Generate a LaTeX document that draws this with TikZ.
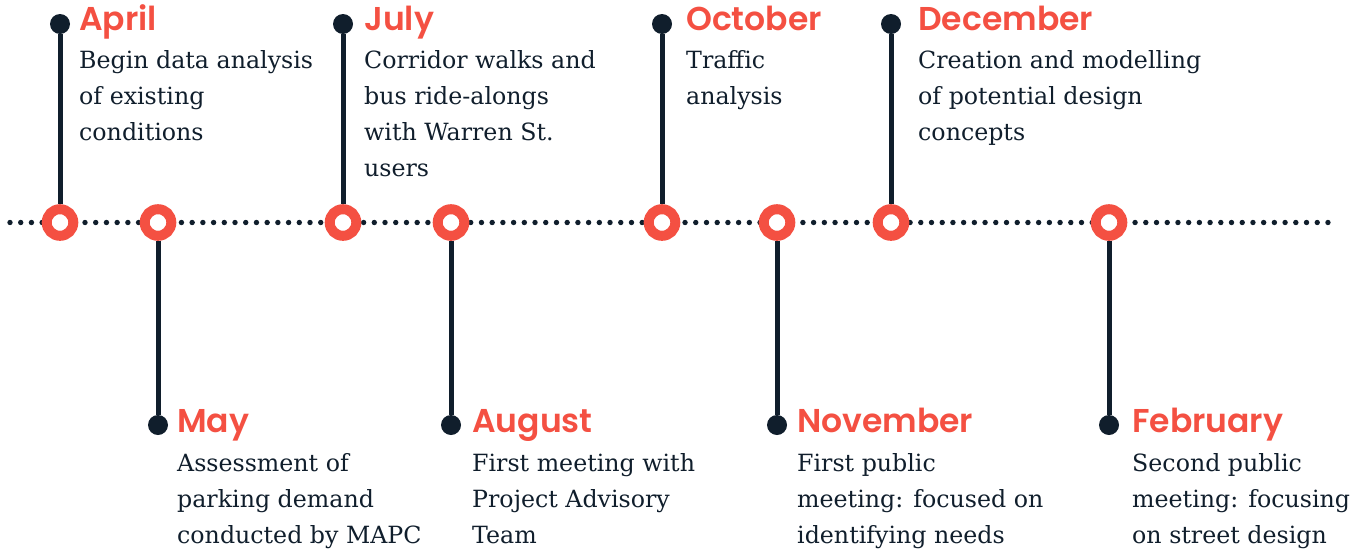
\documentclass[tikz,border=0pt]{standalone}
\usepackage{fontspec}
\setmainfont{DejaVu Serif}
\newfontfamily\headfont{Poppins SemiBold}
\usetikzlibrary{backgrounds}
\definecolor{accent}{RGB}{244,80,66}
\definecolor{navy}{RGB}{16,30,44}
\begin{document}
\begin{tikzpicture}[x=1pt,y=-1pt,
  ring/.style={circle,draw=accent,line width=10pt,fill=white,minimum size=26.6pt,inner sep=0pt},
  pin/.style={circle,fill=navy,minimum size=20pt,inner sep=0pt},
  stem/.style={draw=navy,line width=5pt},
  month/.style={anchor=base west,inner sep=0pt,text=accent,font=\headfont\fontsize{33}{36}\selectfont},
  desc/.style={anchor=north west,inner sep=0pt,align=left,text=navy,font=\fontsize{23.7}{36}\selectfont}]
\useasboundingbox (0,0) rectangle (1365,552);
% rings and pins
\foreach \n/\x/\py in {1/60/24,2/158/425,3/343/24,4/451/425,5/662/24,6/777/425,7/891/24,8/1109/425}{
  \node[ring] (r\n) at (\x,222.5) {};
  \node[pin] (p\n) at (\x,\py) {};
}
\begin{scope}[on background layer]
  \foreach \i in {0,...,123} \fill[navy] (10+\i*10.715,222.5) circle (2.7);
  \foreach \n in {1,...,8} \draw[stem] (r\n) -- (p\n);
\end{scope}
% months
\node[month] (m1) at (79,30) {April};
\node[month] (m2) at (177,432) {May};
\node[month] (m3) at (364,30) {July};
\node[month] (m4) at (472,432) {August};
\node[month] (m5) at (686,30) {October};
\node[month] (m6) at (797,432) {November};
\node[month] (m7) at (918,30) {December};
\node[month] (m8) at (1132,432) {February};
% descriptions
\node[desc] (t1) at (79,42.8) {\strut Begin data analysis\\of existing\\conditions};
\node[desc] (t2) at (177,445.8) {\strut Assessment of\\parking demand\\conducted by MAPC};
\node[desc] (t3) at (364,42.8) {\strut Corridor walks and\\bus ride-alongs\\with Warren St.\\users};
\node[desc] (t4) at (472,445.8) {\strut First meeting with\\Project Advisory\\Team};
\node[desc] (t5) at (686,42.8) {\strut Traffic\\analysis};
\node[desc] (t6) at (797,445.8) {\strut First public\\meeting: focused on\\identifying needs};
\node[desc] (t7) at (918,42.8) {\strut Creation and modelling\\of potential design\\concepts};
\node[desc] (t8) at (1132,445.8) {\strut Second public\\meeting: focusing\\on street design};
\end{tikzpicture}
\end{document}
